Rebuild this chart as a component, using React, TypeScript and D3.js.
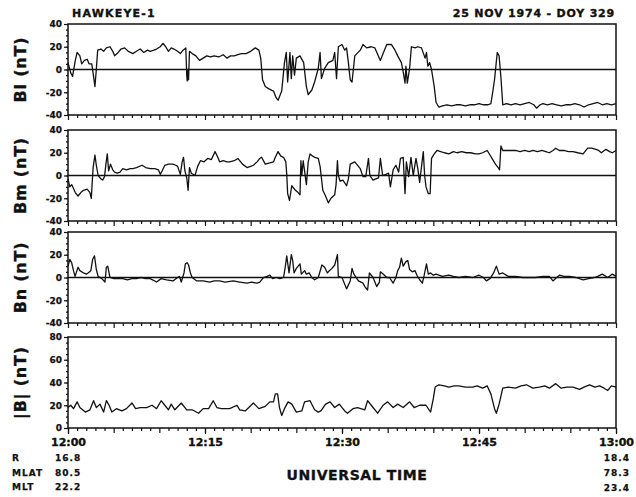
import * as d3 from "d3";
import React, { useEffect, useRef } from "react";

// Hawkeye-1 magnetometer, 25 Nov 1974, 12:00-13:00 UT
// Each point: [minutes after 12:00 UT, nT]
type Pt = [number, number];

const BL: Pt[] = [
  [0, 6], [0.3, -3], [0.5, -6], [0.8, 8], [1.0, 15], [1.3, 12], [1.5, 5], [1.8, 8], [2.1, 9], [2.3, 5],
  [2.6, 5], [2.8, -6], [2.95, -15], [3.1, 0], [3.25, 17], [3.6, 18], [3.9, 16], [4.2, 19], [4.6, 20], [4.9, 16],
  [5.1, 12], [5.5, 15], [5.8, 18], [6.2, 19], [6.6, 16], [7.1, 14], [7.5, 16], [7.9, 18], [8.3, 15], [8.7, 17],
  [9.0, 16], [9.4, 17], [9.7, 18], [10.1, 20], [10.4, 23], [10.7, 20], [11.0, 16], [11.3, 19], [11.6, 18], [12.0, 16],
  [12.3, 14], [12.6, 17], [12.9, 19], [13.0, -5], [13.05, -10], [13.15, 0], [13.2, -9], [13.3, 16], [13.6, 14], [14.0, 12],
  [14.4, 8], [14.8, 10], [15.2, 12], [15.6, 11], [16.0, 12], [16.5, 11], [17.0, 13], [17.4, 10], [17.8, 12], [18.2, 12],
  [18.6, 13], [19.0, 14], [19.5, 14], [20.0, 16], [20.5, 19], [20.9, 17], [21.1, 10], [21.3, -9], [21.6, -15], [22.0, -17],
  [22.5, -19], [22.8, -25], [23.0, -27], [23.4, -19], [23.7, 6], [23.9, 15], [24.05, -11], [24.3, 15], [24.45, -8], [24.6, 12],
  [24.8, -5], [25.0, 10], [25.4, 12], [25.8, 6], [26.1, -15], [26.3, -22], [26.7, -18], [27.0, -11], [27.4, 1], [27.6, 15],
  [27.75, -8], [28.1, 1], [28.5, 6], [29.0, 8], [29.2, 15], [29.4, -8], [29.6, 20], [30.0, 22], [30.3, 17], [30.5, 19],
  [30.7, 6], [30.9, -9], [31.1, -11], [31.4, 12], [32.0, 17], [32.3, 22], [32.7, 19], [33.2, 20], [33.6, 19], [34.2, 8],
  [34.5, 14], [34.9, 22], [35.4, 22], [35.8, 17], [36.1, 12], [36.5, 6], [36.7, -2], [36.9, -12], [37.0, 3], [37.15, -12],
  [37.4, 1], [37.6, 20], [38.0, 19], [38.3, 20], [38.7, 19], [39.1, 10], [39.25, 15], [39.4, 3], [39.6, 6], [39.8, 0],
  [40.1, -15], [40.3, -29], [40.6, -33], [41.0, -32], [41.5, -31], [42.0, -32], [42.5, -31], [43.0, -31], [43.5, -32], [44.0, -31],
  [44.5, -31], [45.0, -30], [45.5, -31], [46.0, -31], [46.3, -30], [46.5, -20], [46.7, -9], [47.0, 15], [47.2, 12], [47.4, -7],
  [47.6, -31], [48.0, -30], [48.5, -31], [49.0, -30], [49.5, -31], [50.0, -30], [50.5, -29], [51.0, -31], [51.3, -34], [51.7, -31],
  [52.0, -30], [52.5, -31], [53.0, -30], [53.5, -31], [54.0, -32], [54.5, -31], [55.0, -31], [55.5, -30], [56.0, -31], [56.5, -33],
  [57.0, -31], [57.5, -30], [58.0, -29], [58.5, -31], [59.0, -30], [59.5, -31], [60.0, -30],
];

const BM: Pt[] = [
  [0, -3], [0.2, -10], [0.4, -8], [0.8, -15], [1.1, -18], [1.4, -15], [1.7, -13], [2.1, -12], [2.4, -15], [2.55, -20],
  [2.75, 7], [2.95, 18], [3.1, 9], [3.3, 0], [3.6, -3], [3.8, -4], [4.0, -1], [4.15, 10], [4.3, 19], [4.45, 4],
  [4.65, 10], [4.9, 5], [5.1, 3], [5.4, 2], [5.7, 3], [6.0, 6], [6.4, 5], [6.8, 6], [7.1, 6], [7.5, 7],
  [8.1, 9], [8.5, 7], [9.0, 6], [9.5, 6], [9.9, 5], [10.1, 1], [10.3, 4], [10.6, 9], [11.0, 10], [11.5, 10],
  [11.8, 9], [12.0, 8], [12.3, 1], [12.5, 12], [12.65, 16], [12.8, 4], [13.0, -2], [13.15, -13], [13.3, 7], [13.5, 2],
  [13.9, 0], [14.2, 8], [14.5, 13], [14.9, 12], [15.3, 15], [15.7, 14], [16.1, 21], [16.4, 16], [16.6, 12], [17.0, 13],
  [17.4, 12], [17.7, 12], [18.2, 13], [18.6, 15], [19.1, 10], [19.6, 7], [20.0, 8], [20.3, 9], [20.7, 12], [21.0, 15],
  [21.2, 16], [21.6, 10], [22.1, 11], [22.5, 12], [22.7, 16], [23.0, 21], [23.3, 17], [23.6, 16], [23.85, 12], [23.95, 1],
  [24.05, -16], [24.25, -22], [24.5, -9], [24.9, -13], [25.2, -15], [25.4, -17], [25.5, 13], [25.6, 0], [25.75, 13], [25.9, 4],
  [26.1, -8], [26.3, 12], [26.5, 19], [26.8, 17], [27.0, 16], [27.4, 15], [27.6, 8], [27.9, -13], [28.2, -18], [28.5, -24],
  [28.8, -20], [29.2, -17], [29.35, -8], [29.5, 13], [29.6, 0], [29.8, -5], [30.1, -4], [30.5, -9], [30.7, -3], [30.9, 10],
  [31.4, 12], [31.8, 8], [32.0, 6], [32.3, -1], [32.6, -1], [32.9, 15], [33.05, 0], [33.4, -4], [33.7, -3], [34.0, -2],
  [34.2, 15], [34.45, 0], [34.8, 1], [35.1, 2], [35.3, -10], [35.6, 5], [35.9, 9], [36.2, 3], [36.4, 15], [36.7, 16],
  [36.9, -16], [37.05, 12], [37.3, -1], [37.55, 16], [37.8, 0], [38.1, 15], [38.3, 6], [38.5, -6], [38.9, 21], [39.05, 0],
  [39.2, -10], [39.45, -16], [39.65, -16], [39.8, 15], [40.1, 19], [40.4, 22], [40.8, 21], [41.2, 20], [41.7, 19], [42.2, 21],
  [42.6, 20], [43.1, 21], [43.6, 20], [44.1, 20], [44.6, 19], [45.0, 19], [45.4, 20], [45.9, 22], [46.2, 18], [46.5, 14],
  [46.8, 10], [47.1, 7], [47.25, 5], [47.4, 26], [47.6, 22], [48.0, 22], [48.5, 22], [49.0, 22], [49.5, 21], [50.0, 22],
  [50.5, 21], [50.9, 22], [51.4, 21], [51.9, 22], [52.3, 21], [52.7, 20], [53.1, 22], [53.4, 24], [53.8, 22], [54.3, 22],
  [54.8, 21], [55.3, 21], [55.8, 20], [56.4, 19], [56.9, 24], [57.3, 24], [57.8, 23], [58.1, 22], [58.4, 20], [58.9, 23],
  [59.3, 21], [59.6, 20], [60, 22],
];

const BN: Pt[] = [
  [0, 10], [0.2, 16], [0.4, 13], [0.6, 6], [0.77, 1], [1.1, 9], [1.3, 6], [1.7, 4], [2.0, 3], [2.2, 4],
  [2.5, 6], [2.7, 16], [2.9, 19], [3.1, 7], [3.3, 1], [3.7, -1], [4.05, -4], [4.2, 9], [4.35, 10], [4.6, 0],
  [5.0, -1], [5.5, -1], [6.0, -1], [6.5, -2], [7.0, -1], [7.5, -1], [8.0, 0], [8.5, -1], [9.0, -1], [9.7, -4],
  [10.2, -1], [10.8, -2], [11.5, -3], [12.0, 0], [12.2, 1], [12.4, -4], [12.7, 4], [12.85, 12], [13.05, 13], [13.2, 11],
  [13.4, 4], [13.6, 0], [14.1, -3], [14.8, -3], [15.5, -4], [16.0, -3], [16.6, -3], [17.2, -4], [18.1, -3], [18.8, -4],
  [19.6, -5], [20.1, -4], [20.7, -5], [21.0, -4], [21.4, 0], [21.8, 1], [22.1, 2], [22.4, -1], [22.8, 0], [23.2, -1],
  [23.6, 0], [23.8, 10], [23.95, 19], [24.1, 10], [24.2, 4], [24.45, 20], [24.6, 15], [24.75, 4], [25.0, 8], [25.2, 10],
  [25.4, 12], [25.55, 3], [25.9, 6], [26.1, 3], [26.4, 4], [26.7, 0], [27.0, -2], [27.4, 0], [27.8, 11], [28.1, 9],
  [28.4, 4], [28.5, 5], [28.9, 8], [29.2, 11], [29.5, 20], [29.6, 1], [30.0, 0], [30.5, -10], [30.9, -3], [31.1, 8],
  [31.3, 3], [31.8, -3], [32.3, -5], [32.5, -8], [32.8, -11], [33.0, 4], [33.4, 0], [33.8, -8], [34.1, -4], [34.2, 5],
  [34.5, 3], [34.9, 0], [35.2, 0], [35.6, -5], [35.9, 0], [36.1, 6], [36.3, 9], [36.5, 17], [36.7, 10], [37.0, 14],
  [37.2, 15], [37.4, 7], [37.7, 5], [38.0, 6], [38.2, 2], [38.5, -2], [38.8, -5], [39.0, 2], [39.25, 12], [39.45, 3],
  [39.7, 4], [40.0, 2], [40.3, 3], [41.0, 1], [41.7, 2], [42.2, 1], [42.8, 0], [43.5, 1], [44.3, 0], [45.0, 2],
  [45.5, 0], [45.8, -3], [46.2, -1], [46.6, 4], [46.9, 10], [47.2, 3], [47.6, 4], [48.2, 1], [49.0, 1], [49.8, 0],
  [50.5, 0], [51.2, 0], [52.0, 1], [52.7, 1], [53.1, -3], [53.5, 0], [53.8, 2], [54.3, 1], [54.9, 1], [55.6, 0],
  [56.4, -2], [57.0, -1], [57.6, 0], [58.0, 1], [58.5, 3], [59.1, 0], [59.6, 3], [60.0, 1],
];

const BT: Pt[] = [
  [0, 18], [0.3, 20], [0.6, 17], [1.0, 23], [1.3, 18], [1.9, 14], [2.4, 16], [2.8, 24], [3.1, 18], [3.5, 21],
  [3.9, 14], [4.2, 24], [4.5, 20], [4.8, 14], [5.3, 17], [5.9, 15], [6.4, 17], [7.0, 22], [7.4, 17], [7.9, 18],
  [8.6, 18], [9.2, 20], [9.7, 17], [10.2, 24], [10.6, 20], [11.0, 16], [11.3, 21], [11.7, 16], [12.4, 22], [13.0, 16],
  [13.6, 16], [14.3, 13], [14.8, 17], [15.4, 17], [15.9, 24], [16.3, 18], [16.8, 17], [17.7, 17], [18.5, 20], [18.8, 16],
  [19.4, 15], [19.8, 18], [20.3, 22], [20.9, 17], [21.6, 19], [22.1, 23], [22.5, 23], [22.7, 30], [22.95, 30], [23.15, 18],
  [23.4, 11], [23.7, 17], [24.1, 23], [24.5, 21], [25.0, 14], [25.6, 15], [25.9, 23], [26.5, 24], [27.0, 16], [27.4, 14],
  [27.7, 15], [28.2, 21], [28.7, 23], [29.2, 18], [29.7, 21], [30.3, 15], [30.6, 13], [31.2, 17], [31.7, 18], [32.5, 16],
  [32.8, 24], [33.4, 18], [33.9, 13], [34.5, 20], [35.0, 23], [35.6, 18], [36.1, 21], [36.7, 18], [37.4, 23], [37.9, 18],
  [38.5, 20], [39.2, 20], [39.7, 14], [40.0, 26], [40.2, 36], [40.6, 38], [41.2, 37], [41.7, 36], [42.3, 37], [42.8, 37],
  [43.5, 36], [44.3, 36], [44.8, 37], [45.4, 35], [45.9, 37], [46.3, 30], [46.7, 17], [46.9, 13], [47.2, 21], [47.6, 35],
  [48.2, 36], [49.0, 35], [49.6, 37], [50.2, 38], [50.9, 35], [51.6, 36], [52.2, 37], [52.7, 35], [53.4, 39], [54.0, 35],
  [54.6, 36], [55.3, 36], [56.0, 34], [56.5, 36], [57.1, 38], [57.7, 36], [58.2, 37], [58.7, 35], [59.1, 33], [59.5, 37],
  [60, 36],
];

const PANEL_LABELS = ["Bl (nT)", "Bm (nT)", "Bn (nT)", "|B| (nT)"];
const COMPONENT_TICKS = [-40, -20, 0, 20, 40];
const TOTAL_TICKS = [0, 20, 40, 60, 80];
const TIME_TICKS = [0, 15, 30, 45, 60];
const TIME_LABELS = ["12:00", "12:15", "12:30", "12:45", "13:00"];
const EPHEM_NAMES = ["R", "MLAT", "MLT"];
const EPHEM_START = ["16.8", "80.5", "22.2"];
const EPHEM_END = ["18.4", "78.3", "23.4"];

// ── Layout ────────────────────────────────────────────────────────────────
const W = 636;
const H = 497;
const LEFT = 68;
const RIGHT = 616;
const PANEL_TOPS = [24, 130, 232, 337];
const PANEL_H = 91;
const INK = "#111";
const FONT = "'DejaVu Sans', 'Liberation Sans', sans-serif";
const HEAVY = 0.35; // extra stroke so the bold type reads as heavy as the print

const x = d3.scaleLinear().domain([0, 60]).range([LEFT, RIGHT]);

interface PanelProps {
  data: Pt[];
  top: number;
  ticks: number[];
  label: string;
  zeroLine: boolean;
  timeLabels: boolean;
}

function Panel({ data, top, ticks, label, zeroLine, timeLabels }: PanelProps) {
  const leftRef = useRef<SVGGElement>(null);
  const bottomRef = useRef<SVGGElement>(null);
  const lo = ticks[0];
  const hi = ticks[ticks.length - 1];
  const y = d3.scaleLinear().domain([lo, hi]).range([top + PANEL_H, top]);

  useEffect(() => {
    // y axis: minor every 5 nT, major every 20 nT
    const gl = d3.select(leftRef.current!);
    gl.selectAll("*").remove();
    gl.append("g").call(
      d3.axisLeft(y).tickValues(d3.range(lo, hi + 1, 5)).tickSize(2).tickFormat(() => "")
    );
    const major = gl.append("g").call(
      d3.axisLeft(y).tickValues(ticks).tickSize(4).tickPadding(2).tickFormat((d) => String(d))
    );
    gl.selectAll(".domain").remove();
    gl.selectAll("line").attr("stroke", INK).attr("stroke-width", 1.2);
    major.selectAll("text")
      .attr("font-family", FONT).attr("font-weight", "bold").attr("font-size", 9)
      .attr("fill", INK).attr("stroke", INK).attr("stroke-width", 0.25);

    // x axis: ticks each minute, longer every 5 min
    const gb = d3.select(bottomRef.current!);
    gb.selectAll("*").remove();
    gb.append("g").call(
      d3.axisBottom(x).tickValues(d3.range(0, 61).filter((m) => m % 5 !== 0)).tickSize(3).tickFormat(() => "")
    );
    gb.append("g").call(
      d3.axisBottom(x).tickValues(d3.range(0, 61, 5)).tickSize(5).tickFormat(() => "")
    );
    if (timeLabels) {
      const lab = gb.append("g").call(
        d3.axisBottom(x).tickValues(TIME_TICKS).tickSize(6).tickPadding(4)
          .tickFormat((_, i) => TIME_LABELS[i])
      );
      lab.selectAll("text")
        .attr("font-family", FONT).attr("font-weight", "bold").attr("font-size", 11)
        .attr("fill", INK).attr("stroke", INK).attr("stroke-width", HEAVY);
    }
    gb.selectAll(".domain").remove();
    gb.selectAll("line").attr("stroke", INK).attr("stroke-width", 1.2);
  }, [top, ticks, timeLabels]);

  const line = d3.line<Pt>().x((d) => x(d[0])).y((d) => y(d[1]));

  return (
    <g>
      <rect x={LEFT} y={top} width={RIGHT - LEFT} height={PANEL_H} fill="none" stroke={INK} strokeWidth={1.5} />
      {zeroLine && (
        <line x1={LEFT} x2={RIGHT} y1={y(0)} y2={y(0)} stroke={INK} strokeWidth={1.3} />
      )}
      <path d={line(data) ?? ""} fill="none" stroke={INK} strokeWidth={1.3} strokeLinejoin="round" />
      <g ref={leftRef} transform={`translate(${LEFT},0)`} />
      <g ref={bottomRef} transform={`translate(0,${top + PANEL_H})`} />
      <text
        transform={`translate(25.5,${top + PANEL_H / 2}) rotate(-90)`}
        textAnchor="middle"
        fontFamily={FONT}
        fontWeight="bold"
        fontSize={16}
        letterSpacing={0.8}
        fill={INK}
        stroke={INK}
        strokeWidth={HEAVY}
      >
        {label}
      </text>
    </g>
  );
}

export default function App() {
  useEffect(() => {
    document.body.style.margin = "0";
  }, []);

  const series = [BL, BM, BN, BT];

  return (
    <svg width={W} height={H} viewBox={`0 0 ${W} ${H}`} style={{ display: "block", background: "#fff" }}>
      <rect width={W} height={H} fill="#fff" />

      <g fontFamily={FONT} fontWeight="bold" fill={INK} stroke={INK} strokeWidth={HEAVY}>
        <text x={72} y={17} fontSize={11} letterSpacing={1.2}>
          HAWKEYE-1
        </text>
        <text x={615} y={17} textAnchor="end" fontSize={11} letterSpacing={0.8}>
          25 NOV 1974 - DOY 329
        </text>
      </g>

      {series.map((s, i) => (
        <Panel
          key={PANEL_LABELS[i]}
          data={s}
          top={PANEL_TOPS[i]}
          ticks={i < 3 ? COMPONENT_TICKS : TOTAL_TICKS}
          label={PANEL_LABELS[i]}
          zeroLine={i < 3}
          timeLabels={i === 3}
        />
      ))}

      <text x={357} y={480} textAnchor="middle" fontFamily={FONT} fontWeight="bold" fontSize={14}
        letterSpacing={0.6} fill={INK} stroke={INK} strokeWidth={HEAVY}>
        UNIVERSAL TIME
      </text>

      {EPHEM_NAMES.map((n, i) => (
        <g key={n} fontFamily={FONT} fontWeight="bold" fontSize={9} letterSpacing={1} fill={INK}
          stroke={INK} strokeWidth={0.25}>
          <text x={12} y={461 + i * 14.5}>{n}</text>
          <text x={55} y={461 + i * 14.5}>{EPHEM_START[i]}</text>
          <text x={630} y={461 + i * 15} textAnchor="end">{EPHEM_END[i]}</text>
        </g>
      ))}
    </svg>
  );
}
